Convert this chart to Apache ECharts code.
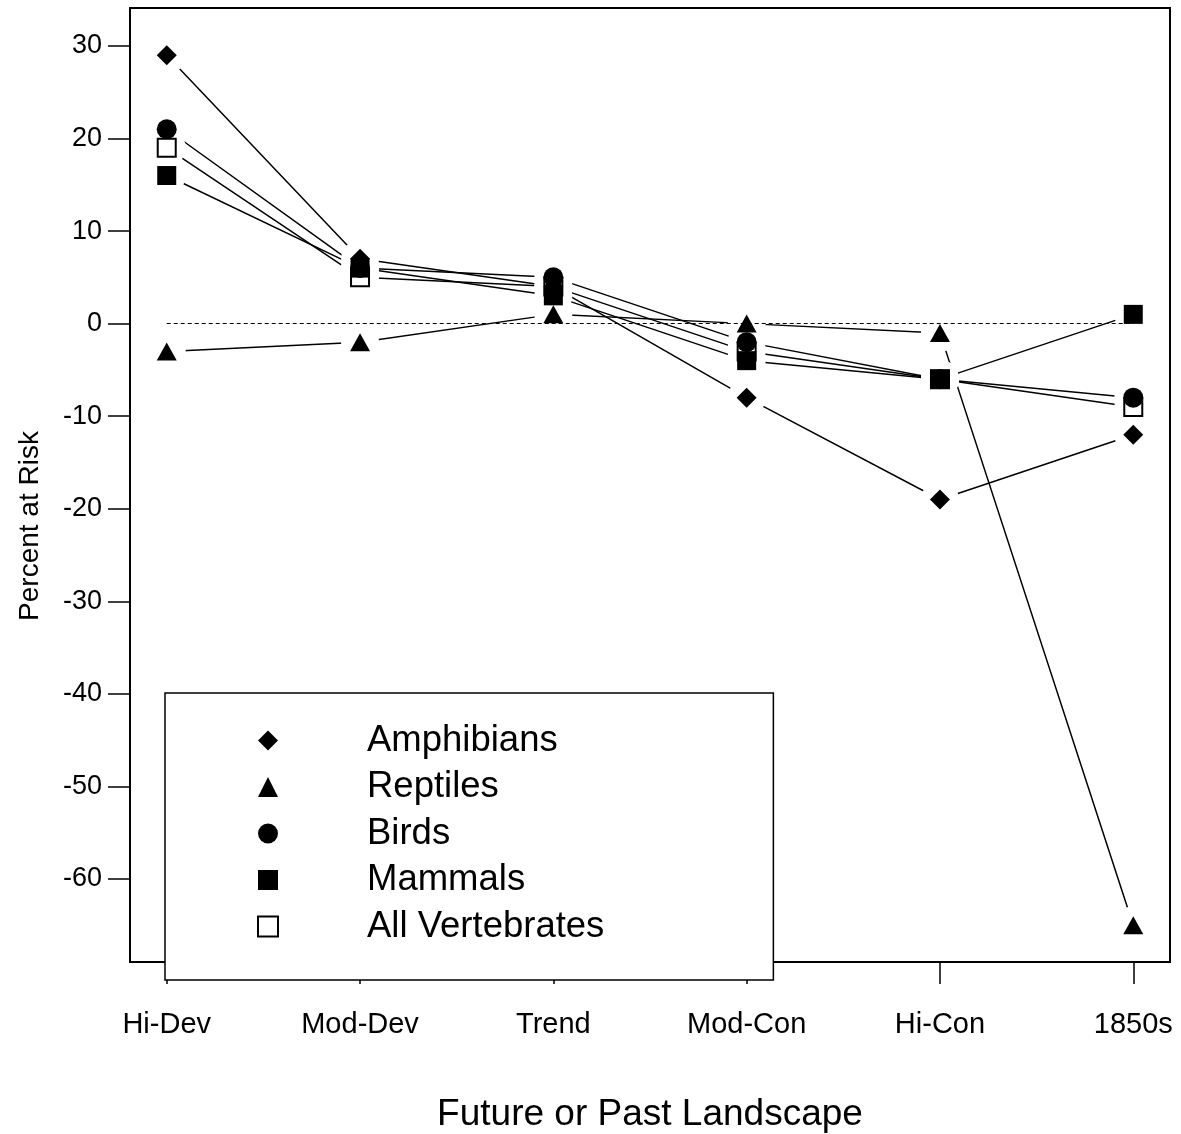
<!DOCTYPE html>
<html>
<head>
<meta charset="utf-8">
<script src="https://cdn.jsdelivr.net/npm/echarts@6/dist/echarts.min.js"></script>
<style>
html,body{margin:0;padding:0;background:#fff;}
#chart{width:1181px;height:1134px;}
</style>
</head>
<body>
<div id="chart"></div>
<script>
const categories = ['Hi-Dev', 'Mod-Dev', 'Trend', 'Mod-Con', 'Hi-Con', '1850s'];
const yTicks = [-60, -50, -40, -30, -20, -10, 0, 10, 20, 30];
const amphibians = [29, 7, 4, -8, -19, -12];
const reptiles = [-3, -2, 1, 0, -1, -65];
const birds = [21, 6, 5, -2, -6, -8];
const mammals = [16, 6, 3, -4, -6, 1];
const allVertebrates = [19, 5, 4, -3, -6, -9];

const FONT = '"Liberation Sans", Arial, Helvetica, sans-serif';
const chart = echarts.init(document.getElementById('chart'), null, {renderer: 'canvas'});

function pts(arr) { return arr.map((v, i) => [i, v]); }

const groups = [
  {name: 'Amphibians', data: amphibians, symbol: 'diamond', size: [20, 20], filled: true, z: 4},
  {name: 'Reptiles', data: reptiles, symbol: 'triangle', size: [20, 18], filled: true, z: 4},
  {name: 'Birds', data: birds, symbol: 'circle', size: 20, filled: true, z: 4},
  {name: 'Mammals', data: mammals, symbol: 'rect', size: 19, filled: true, z: 4},
  {name: 'All Vertebrates', data: allVertebrates, symbol: 'rect', size: 18, filled: false, z: 3}
];

const series = [];
// connecting lines
groups.forEach(g => series.push({
  name: g.name + ' line', type: 'line', data: pts(g.data), symbol: 'none',
  lineStyle: {color: '#000', width: 1.5}, emphasis: {disabled: true}, silent: true, animation: false, z: 1
}));
// white gaps around the markers (lines stop short of the symbols)
groups.forEach(g => series.push({
  name: g.name + ' gap', type: 'line', data: pts(g.data), symbol: 'circle', symbolSize: 38, showAllSymbol: true,
  lineStyle: {width: 0, opacity: 0}, itemStyle: {color: '#fff', borderWidth: 0},
  emphasis: {disabled: true}, silent: true, animation: false, z: 2
}));
// markers
groups.forEach(g => series.push({
  name: g.name, type: 'line', data: pts(g.data), symbol: g.symbol, symbolSize: g.size, showAllSymbol: true,
  lineStyle: {width: 0, opacity: 0},
  itemStyle: g.filled ? {color: '#000', borderColor: '#000', borderWidth: 0}
                      : {color: '#fff', borderColor: '#000', borderWidth: 2},
  emphasis: {disabled: true}, animation: false, z: g.z
}));
series[series.length - 1].markLine = {
  silent: true,
  symbol: 'none',
  label: {show: false},
  lineStyle: {color: '#000', width: 1, type: [4, 3]},
  data: [[{coord: [0, 0]}, {coord: [5, 0]}]],
  animation: false
};

chart.setOption({
  backgroundColor: '#fff',
  animation: false,
  grid: {left: 130, right: 11, top: 8, bottom: 172, outerBoundsMode: 'none', containLabel: false, show: true, borderColor: '#000', borderWidth: 2, backgroundColor: 'transparent'},
  xAxis: {
    type: 'value', min: -0.19, max: 5.19,
    splitLine: {show: false},
    axisLine: {show: true, onZero: false, lineStyle: {color: '#000', width: 2}},
    axisTick: {show: true, customValues: [0, 1, 2, 3, 4, 5], length: 22, lineStyle: {color: '#000', width: 1.5}},
    axisLabel: {customValues: [0, 1, 2, 3, 4, 5], formatter: v => categories[Math.round(v)], color: '#000', fontFamily: FONT, fontSize: 29, margin: 48},
    name: 'Future or Past Landscape',
    nameLocation: 'middle',
    nameGap: 134,
    nameTextStyle: {color: '#000', fontFamily: FONT, fontSize: 37}
  },
  yAxis: {
    type: 'value', min: -68.97, max: 34.1,
    splitLine: {show: false},
    axisLine: {show: true, onZero: false, lineStyle: {color: '#000', width: 2}},
    axisTick: {show: true, customValues: yTicks, length: 22, lineStyle: {color: '#000', width: 1.5}},
    axisLabel: {customValues: yTicks, color: '#000', fontFamily: FONT, fontSize: 27, margin: 28},
    name: 'Percent at Risk',
    nameLocation: 'middle',
    nameGap: 86,
    nameRotate: 90,
    nameTextStyle: {color: '#000', fontFamily: FONT, fontSize: 28, padding: [0, 82, 0, 0]}
  },
  legend: {
    show: true,
    orient: 'vertical',
    left: 165,
    top: 693,
    padding: [29, 169, 35, 9],
    itemWidth: 188,
    itemHeight: 25,
    itemGap: 9.5,
    backgroundColor: '#fff',
    borderColor: '#000',
    borderWidth: 1.5,
    selectedMode: false,
    lineStyle: {width: 0, color: 'rgba(0,0,0,0)'},
    textStyle: {color: '#000', fontFamily: FONT, fontSize: 36.5},
    z: 10,
    data: groups.map(g => g.name)
  },
  series: series
});
</script>
</body>
</html>
